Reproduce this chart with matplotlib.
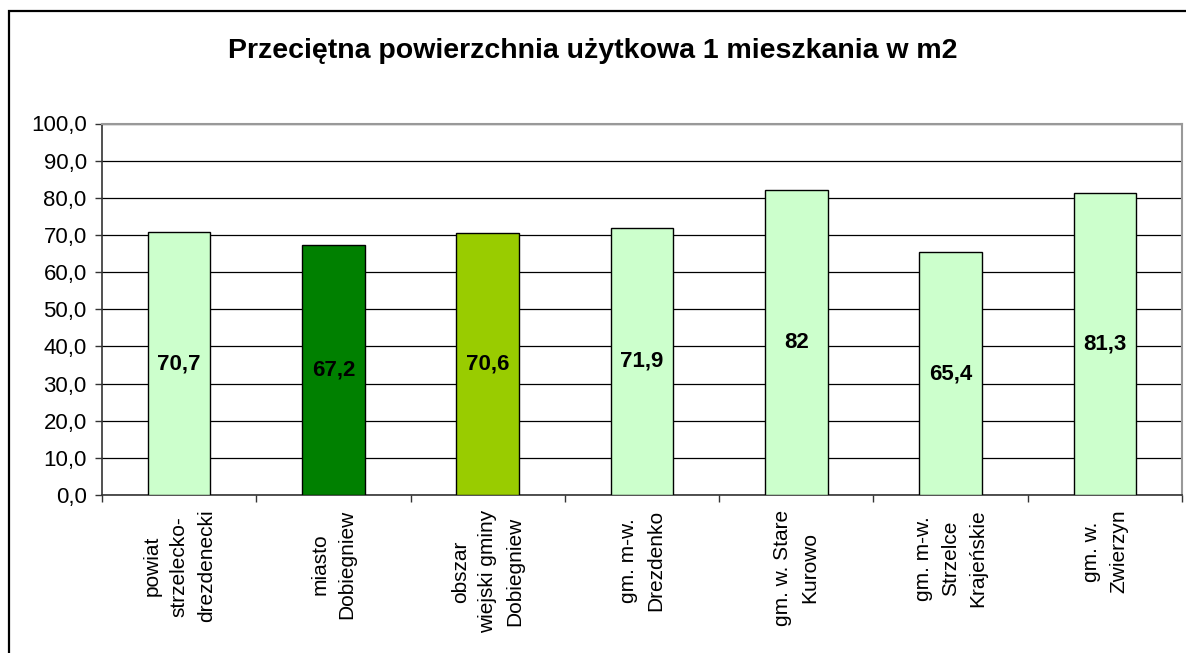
import matplotlib.pyplot as plt
from matplotlib.patches import Rectangle

categories = ['powiat\nstrzelecko-\ndrezdenecki', 'miasto\nDobiegniew',
              'obszar\nwiejski gminy\nDobiegniew', 'gm. m-w.\nDrezdenko',
              'gm. w. Stare\nKurowo', 'gm. m-w.\nStrzelce\nKrajeńskie',
              'gm. w.\nZwierzyn']
values = [70.7, 67.2, 70.6, 71.9, 82, 65.4, 81.3]
value_labels = ['70,7', '67,2', '70,6', '71,9', '82', '65,4', '81,3']
colors = ['#CCFFCC', '#008000', '#99CC00', '#CCFFCC', '#CCFFCC', '#CCFFCC', '#CCFFCC']
yticks = [0, 10, 20, 30, 40, 50, 60, 70, 80, 90, 100]

plt.rcParams['font.family'] = ['Liberation Sans', 'DejaVu Sans']

W, H = 1186, 653
fig = plt.figure(figsize=(W / 100, H / 100), dpi=100)

# outer chart border
fig.patches.append(Rectangle((9 / W, -0.05), 1.1, (H - 11) / H + 0.05,
                             transform=fig.transFigure, fill=False,
                             edgecolor='black', linewidth=1.6))

ax = fig.add_axes([102 / W, (H - 495) / H, (1182 - 102) / W, (495 - 123.5) / H])
x = list(range(len(categories)))
ax.bar(x, values, width=0.405, color=colors, edgecolor='black', linewidth=1.0, zorder=3)

for xi, v, lab in zip(x, values, value_labels):
    ax.text(xi, v / 2, lab, ha='center', va='center', fontsize=16,
            fontweight='bold', zorder=4)

ax.set_xlim(-0.5, len(categories) - 0.5)
ax.set_ylim(0, 100)
ax.set_yticks(yticks)
ax.set_yticklabels([f'{t:.1f}'.replace('.', ',') for t in yticks], fontsize=16)
ax.yaxis.grid(True, color='black', linewidth=0.9, zorder=0)
ax.set_axisbelow(True)

# category boundary ticks, labels placed separately
ax.set_xticks([i - 0.5 for i in range(len(categories) + 1)])
ax.set_xticklabels([])
ax.tick_params(axis='x', direction='out', length=5, width=1, color='#333333')
ax.tick_params(axis='y', direction='out', length=5, width=1, color='#333333', pad=6)
for xi, c in zip(x, categories):
    ax.text(xi, -4, c, rotation=90, ha='center', va='top', multialignment='center',
            fontsize=15, linespacing=1.55, transform=ax.transData)

for s in ['left', 'bottom']:
    ax.spines[s].set_color('#333333')
    ax.spines[s].set_linewidth(1.2)
for s in ['top', 'right']:
    ax.spines[s].set_color('#999999')
    ax.spines[s].set_linewidth(1.5)

fig.text(0.5, (H - 51) / H, 'Przeciętna powierzchnia użytkowa 1 mieszkania w m2',
         ha='center', va='center', fontsize=20.5, fontweight='bold')

fig.savefig('out.png', dpi=100)
